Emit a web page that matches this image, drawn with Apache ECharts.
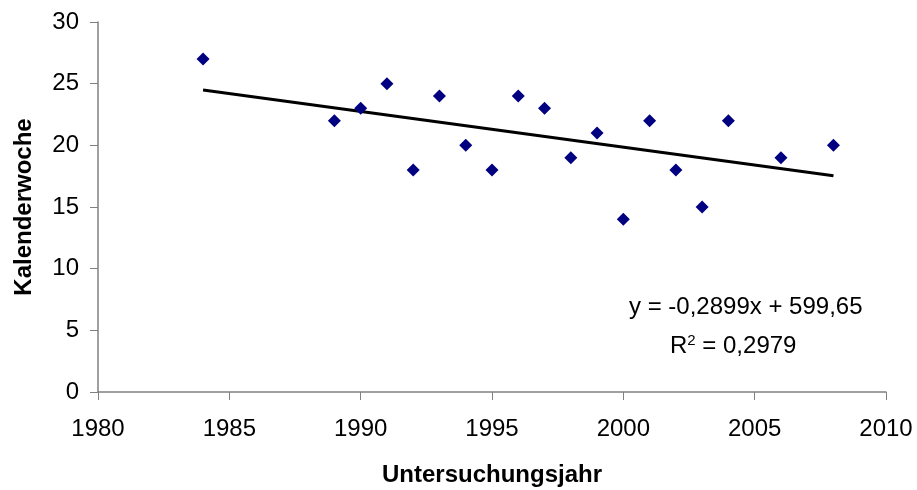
<!DOCTYPE html>
<html><head><meta charset="utf-8">
<script src="https://cdn.jsdelivr.net/npm/echarts@6/dist/echarts.min.js"></script>
<style>html,body{margin:0;padding:0;background:#fff}#c{width:917px;height:490px}</style>
</head><body><div id="c"></div>
<script>
const years = [1984,1989,1990,1991,1992,1993,1994,1995,1996,1997,1998,1999,2000,2001,2002,2003,2004,2006,2008];
const weeks = [27,22,23,25,18,24,20,18,24,23,19,21,14,22,18,15,22,19,20];
const slope = -0.2899, intercept = 599.65;
const trendX = [1984, 2008];
const xTicks = [1980,1985,1990,1995,2000,2005,2010];
const yTicks = [0,5,10,15,20,25,30];

const chart = echarts.init(document.getElementById('c'), null, {renderer:'canvas'});
const font = 'Liberation Sans, Arial, sans-serif';
chart.setOption({
  animation:false,
  grid:{left:98,right:31,top:22,bottom:98,containLabel:false,outerBoundsMode:'none'},
  xAxis:{type:'value',min:xTicks[0],max:xTicks[xTicks.length-1],interval:5,
    name:'Untersuchungsjahr',nameLocation:'middle',nameGap:71,
    nameTextStyle:{fontFamily:font,fontSize:24,fontWeight:'bold',color:'#000'},
    axisLine:{lineStyle:{color:'#808080',width:1.5}},
    axisTick:{inside:false,length:8,lineStyle:{color:'#808080'}},
    axisLabel:{fontFamily:font,fontSize:24,color:'#000',margin:25,formatter:v=>String(v)},
    splitLine:{show:false}},
  yAxis:{type:'value',min:yTicks[0],max:yTicks[yTicks.length-1],interval:5,
    name:'Kalenderwoche',nameLocation:'middle',nameGap:62,
    nameTextStyle:{fontFamily:font,fontSize:24,fontWeight:'bold',color:'#000'},
    axisLine:{show:true,lineStyle:{color:'#808080',width:1.5}},
    axisTick:{show:true,length:8,lineStyle:{color:'#808080'}},
    axisLabel:{fontFamily:font,fontSize:24,color:'#000',margin:19},
    splitLine:{show:false}},
  series:[
    {type:'line',data:trendX.map(x=>[x,slope*x+intercept]),symbol:'none',
     lineStyle:{color:'#000',width:3},z:1},
    {type:'scatter',data:years.map((y,i)=>[y,weeks[i]]),symbol:'diamond',symbolSize:[13,13],
     itemStyle:{color:'#000080',opacity:1},z:2}
  ],
  graphic:[
    {type:'text',left:629,top:295,style:{text:'y = -0,2899x + 599,65',font:'24px '+font,fill:'#000'}},
    {type:'text',left:670,top:333,style:{text:'R{s|2} = 0,2979',font:'24px '+font,fill:'#000',
      rich:{s:{fontSize:15,verticalAlign:'top',padding:[0,0,12,0],fontFamily:font}}}}
  ]
});
</script></body></html>
